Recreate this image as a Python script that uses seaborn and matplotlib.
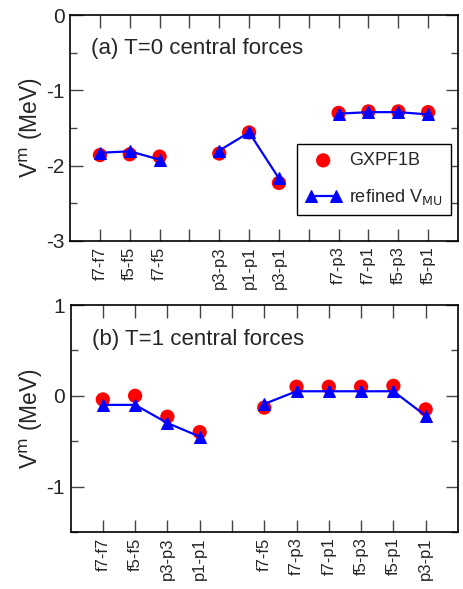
import numpy as np
import pandas as pd
import matplotlib
matplotlib.use("Agg")
import matplotlib.pyplot as plt
import seaborn as sns

sns.set_style("ticks")
plt.rcParams['font.family'] = ['Liberation Sans', 'DejaVu Sans']

# (a) T=0 central forces
labels_a = ["f7-f7", "f5-f5", "f7-f5", "", "p3-p3", "p1-p1", "p3-p1", "",
            "f7-p3", "f7-p1", "f5-p3", "f5-p1"]
groups_a = [[1, 2, 3], [5, 6, 7], [9, 10, 11, 12]]
gxpf_a = [-1.86, -1.85, -1.88, -1.84, -1.56, -2.23, -1.30, -1.28, -1.28, -1.29]
refined_a = [-1.83, -1.81, -1.92, -1.80, -1.56, -2.17, -1.31, -1.29, -1.29, -1.32]

# (b) T=1 central forces
labels_b = ["f7-f7", "f5-f5", "p3-p3", "p1-p1", "",
            "f7-f5", "f7-p3", "f7-p1", "f5-p3", "f5-p1", "p3-p1"]
groups_b = [[1, 2, 3, 4], [6, 7, 8, 9, 10, 11]]
gxpf_b = [-0.04, 0.00, -0.23, -0.40, -0.13, 0.10, 0.10, 0.10, 0.11, -0.15]
refined_b = [-0.10, -0.10, -0.30, -0.45, -0.09, 0.05, 0.05, 0.05, 0.05, -0.22]


def make_df(groups, gx, rf):
    rows = []
    k = 0
    for g, pos in enumerate(groups):
        for p in pos:
            rows.append({"x": p, "group": g, "gxpf": gx[k], "refined": rf[k]})
            k += 1
    return pd.DataFrame(rows)


def draw(ax, df, labels, ylim, yticks, title, legend=False):
    sns.scatterplot(data=df, x="x", y="gxpf", ax=ax, color="red", s=105,
                    edgecolor="none", zorder=3, label="GXPF1B" if legend else None,
                    legend=False)
    for g, sub in df.groupby("group"):
        sns.lineplot(data=sub, x="x", y="refined", ax=ax, color="blue", lw=1.6,
                     marker="^", markersize=8.5, markeredgecolor="blue", zorder=4,
                     estimator=None, sort=False,
                     label="refined V$_{\\rm MU}$" if (legend and g == 0) else None,
                     legend=False)
    n = len(labels)
    ax.set_xlim(0, n + 1)
    ax.set_xticks(range(1, n + 1))
    ax.set_xticklabels(labels, rotation=90, fontsize=12)
    ax.set_ylim(*ylim)
    ax.set_yticks(yticks)
    ax.set_yticklabels([f"{t:g}" for t in yticks], fontsize=15)
    ax.set_yticks(np.arange(ylim[0], ylim[1] + 0.01, 0.5), minor=True)
    ax.tick_params(which="both", direction="in", top=True, right=True,
                   color="#444444", width=1)
    ax.tick_params(which="major", length=9, pad=4)
    ax.tick_params(which="minor", length=5)
    ax.tick_params(axis="x", which="minor", bottom=False, top=False)
    for sp in ax.spines.values():
        sp.set_linewidth(1.2)
        sp.set_color("black")
    ax.set_xlabel("")
    ax.set_ylabel("V$^{\\rm m}$ (MeV)", fontsize=16.5, labelpad=1)
    ax.text(0.055, 0.85, title, transform=ax.transAxes, fontsize=16, va="center")


fig = plt.figure(figsize=(4.64, 5.89), dpi=100)
ax1 = fig.add_axes([0.151, 0.591, 0.836, 0.3835])
ax2 = fig.add_axes([0.152, 0.097, 0.835, 0.385])

df_a = make_df(groups_a, gxpf_a, refined_a)
df_b = make_df(groups_b, gxpf_b, refined_b)

draw(ax1, df_a, labels_a, (-3, 0), [-3, -2, -1, 0], "(a) T=0 central forces", legend=True)
draw(ax2, df_b, labels_b, (-1.5, 1), [-1, 0, 1], "(b) T=1 central forces")

leg = ax1.legend(loc="upper left", bbox_to_anchor=(0.585, 0.429), fontsize=13,
                 frameon=True, fancybox=False, framealpha=1, numpoints=2,
                 scatterpoints=1, handlelength=2.0, handletextpad=0.45,
                 borderpad=0.45, labelspacing=1.0, borderaxespad=0)
leg.get_frame().set_edgecolor("black")
leg.get_frame().set_linewidth(1)

fig.savefig("out.png", dpi=100)
